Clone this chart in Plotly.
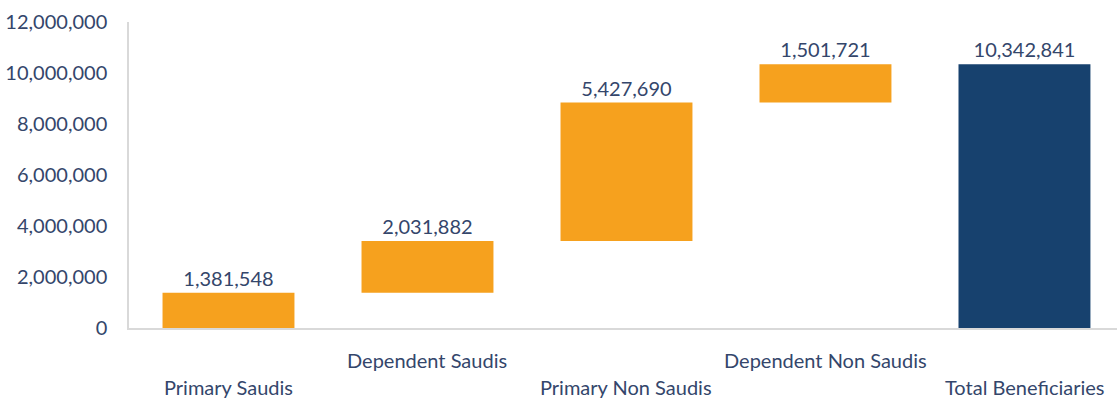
import plotly.graph_objects as go

categories = ["Primary Saudis", "Dependent Saudis", "Primary Non Saudis", "Dependent Non Saudis", "Total Beneficiaries"]
values = [1381548, 2031882, 5427690, 1501721, 10342841]
measures = ["relative", "relative", "relative", "relative", "total"]
label_rows = [0, 1, 0, 1, 0]  # 0 = lower row, 1 = upper row
y_ticks = [0, 2000000, 4000000, 6000000, 8000000, 10000000, 12000000]

ORANGE = "#F6A11E"
NAVY = "#17416E"
TEXT = "#34466B"
FONT = "Lato, Open Sans, sans-serif"

fig = go.Figure(go.Waterfall(
    x=categories,
    y=[v if m == "relative" else 0 for v, m in zip(values, measures)],
    measure=measures,
    text=[f"{v:,}" for v in values],
    textposition="outside",
    textfont=dict(family=FONT, size=20, color=TEXT),
    increasing=dict(marker=dict(color=ORANGE)),
    decreasing=dict(marker=dict(color=ORANGE)),
    totals=dict(marker=dict(color=NAVY)),
    connector=dict(visible=False),
    width=0.663,
    cliponaxis=False,
))

annotations = []
for cat, row in zip(categories, label_rows):
    annotations.append(dict(
        x=cat, xref="x", y=0, yref="paper",
        text=cat, showarrow=False,
        yanchor="middle", yshift=-32 if row == 1 else -59,
        font=dict(family=FONT, size=20, color=TEXT),
    ))

fig.update_layout(
    width=1117, height=401,
    margin=dict(l=129, r=0, t=22, b=73),
    paper_bgcolor="white", plot_bgcolor="white",
    showlegend=False,
    annotations=annotations,
    xaxis=dict(showticklabels=False, showline=True, linecolor="#D9D9D9", linewidth=1.5,
               showgrid=False, ticks="", range=[-0.5, 4.465]),
    yaxis=dict(range=[0, 12000000], tickvals=y_ticks, tickformat=",",
               showline=True, linecolor="#D9D9D9", linewidth=1.5,
               showgrid=False, zeroline=False, ticks="", ticklabelstandoff=16,
               tickfont=dict(family=FONT, size=20, color=TEXT)),
)

fig.write_html("out.html", config={"displayModeBar": False},
               post_script="document.body.style.margin='0px';")
